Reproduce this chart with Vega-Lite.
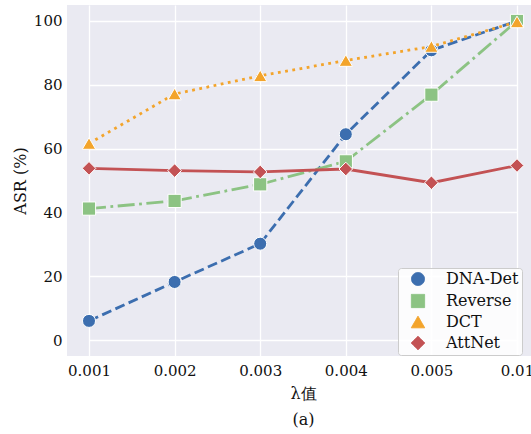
{
  "$schema": "https://vega.github.io/schema/vega-lite/v6.json",
  "width": 464,
  "height": 351,
  "autosize": {"type": "none"},
  "padding": {"left": 67, "top": 5, "right": 0, "bottom": 78},
  "background": "white",
  "data": {
    "values": [
      {"lambda": "0.001", "method": "DNA-Det", "asr": 6.0},
      {"lambda": "0.002", "method": "DNA-Det", "asr": 18.2},
      {"lambda": "0.003", "method": "DNA-Det", "asr": 30.2},
      {"lambda": "0.004", "method": "DNA-Det", "asr": 64.5},
      {"lambda": "0.005", "method": "DNA-Det", "asr": 90.8},
      {"lambda": "0.01", "method": "DNA-Det", "asr": 100},
      {"lambda": "0.001", "method": "Reverse", "asr": 41.2},
      {"lambda": "0.002", "method": "Reverse", "asr": 43.6},
      {"lambda": "0.003", "method": "Reverse", "asr": 48.8},
      {"lambda": "0.004", "method": "Reverse", "asr": 56.0},
      {"lambda": "0.005", "method": "Reverse", "asr": 76.9},
      {"lambda": "0.01", "method": "Reverse", "asr": 100},
      {"lambda": "0.001", "method": "DCT", "asr": 61.6},
      {"lambda": "0.002", "method": "DCT", "asr": 77.1},
      {"lambda": "0.003", "method": "DCT", "asr": 82.8},
      {"lambda": "0.004", "method": "DCT", "asr": 87.6},
      {"lambda": "0.005", "method": "DCT", "asr": 92.0},
      {"lambda": "0.01", "method": "DCT", "asr": 99.7},
      {"lambda": "0.001", "method": "AttNet", "asr": 53.8},
      {"lambda": "0.002", "method": "AttNet", "asr": 53.1},
      {"lambda": "0.003", "method": "AttNet", "asr": 52.7},
      {"lambda": "0.004", "method": "AttNet", "asr": 53.6},
      {"lambda": "0.005", "method": "AttNet", "asr": 49.3},
      {"lambda": "0.01", "method": "AttNet", "asr": 54.7}
    ]
  },
  "encoding": {
    "x": {
      "field": "lambda",
      "type": "ordinal",
      "sort": ["0.001", "0.002", "0.003", "0.004", "0.005", "0.01"],
      "scale": {"type": "point", "padding": 0, "range": [22, 450]},
      "axis": {"title": ["λ值", "(a)"], "labelAngle": 0, "labelPadding": 7, "titlePadding": 7, "titleLineHeight": 26, "grid": true}
    },
    "y": {
      "field": "asr",
      "type": "quantitative",
      "scale": {"domain": [-5, 105], "nice": false, "zero": false},
      "axis": {"title": "ASR (%)", "values": [0, 20, 40, 60, 80, 100], "labelPadding": 5, "titlePadding": 5}
    },
    "color": {
      "field": "method",
      "type": "nominal",
      "sort": ["DNA-Det", "Reverse", "DCT", "AttNet"],
      "scale": {"domain": ["DNA-Det", "Reverse", "DCT", "AttNet"], "range": ["#3C6EAF", "#8CC383", "#F3A42B", "#C35254"]},
      "legend": {
        "title": null,
        "orient": "none",
        "legendX": 331,
        "legendY": 263,
        "padding": 3,
        "rowPadding": 4,
        "symbolSize": 140,
        "symbolOffset": 9,
        "symbolOpacity": 1,
        "symbolStrokeWidth": 1,
        "symbolDash": [1, 0],
        "labelOffset": 20,
        "labelFont": "DejaVu Serif",
        "labelFontSize": 16,
        "labelColor": "#111111",
        "strokeColor": "#cccccc",
        "fillColor": "rgba(255,255,255,0.85)",
        "cornerRadius": 3
      }
    }
  },
  "layer": [
    {
      "mark": {"type": "point", "filled": true, "opacity": 0, "stroke": "white", "strokeWidth": 1},
      "encoding": {
        "shape": {
          "field": "method",
          "type": "nominal",
          "scale": {"domain": ["DNA-Det", "Reverse", "DCT", "AttNet"], "range": ["circle", "square", "triangle-up", "diamond"]},
          "legend": null
        }
      }
    },
    {
      "transform": [{"filter": "datum.method === 'DNA-Det'"}],
      "mark": {"type": "line", "strokeWidth": 2.8, "strokeCap": "butt", "strokeDash": [10, 4.5]}
    },
    {
      "transform": [{"filter": "datum.method === 'Reverse'"}],
      "mark": {"type": "line", "strokeWidth": 2.8, "strokeCap": "butt", "strokeDash": [17, 4.5, 2.8, 4.5]}
    },
    {
      "transform": [{"filter": "datum.method === 'DCT'"}],
      "mark": {"type": "line", "strokeWidth": 2.8, "strokeCap": "butt", "strokeDash": [2.8, 4.5]}
    },
    {
      "transform": [{"filter": "datum.method === 'AttNet'"}],
      "mark": {"type": "line", "strokeWidth": 2.8, "strokeCap": "butt"}
    },
    {
      "mark": {"type": "point", "filled": true, "opacity": 1, "stroke": "white", "strokeWidth": 1},
      "encoding": {
        "shape": {
          "field": "method",
          "type": "nominal",
          "scale": {"domain": ["DNA-Det", "Reverse", "DCT", "AttNet"], "range": ["circle", "square", "triangle-up", "diamond"]},
          "legend": null
        },
        "size": {
          "field": "method",
          "type": "nominal",
          "scale": {"domain": ["DNA-Det", "Reverse", "DCT", "AttNet"], "range": [170, 185, 200, 260]},
          "legend": null
        }
      }
    }
  ],
  "config": {
    "view": {"fill": "#EAEAF2", "stroke": null},
    "axis": {
      "domain": false,
      "ticks": false,
      "grid": true,
      "gridColor": "#ffffff",
      "gridWidth": 1.3,
      "labelFont": "DejaVu Serif",
      "labelFontSize": 15,
      "labelColor": "#111111",
      "titleFont": "DejaVu Serif",
      "titleFontSize": 16,
      "titleFontWeight": "normal",
      "titleColor": "#111111"
    }
  }
}
